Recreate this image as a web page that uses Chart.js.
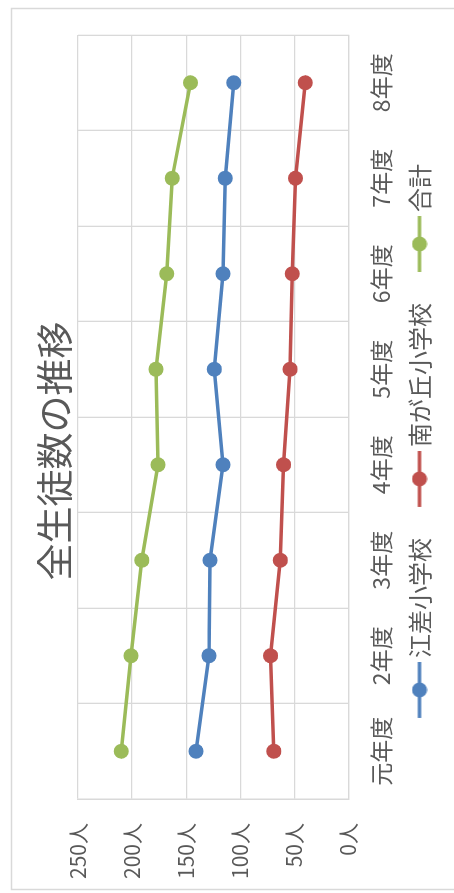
<!DOCTYPE html>
<html lang="ja">
<head>
<meta charset="utf-8">
<title>全生徒数の推移</title>
<script src="https://cdn.jsdelivr.net/npm/chart.js@4.4.1/dist/chart.umd.min.js"></script>
<style>
  html, body { margin: 0; padding: 0; background: #fff; overflow: hidden; }
  body { width: 454px; height: 893px; position: relative; }
  /* グラフは横向きに描いて、ページ上で左へ90度回す */
  #wrap {
    position: absolute; left: 0; top: 0;
    width: 893px; height: 454px;
    transform-origin: 0 0;
    transform: translate(0, 893px) rotate(-90deg);
  }
</style>
</head>
<body>
<div id="wrap"><canvas id="studentChart" width="893" height="454"></canvas></div>
<script>
// データ
const categories = ['元年度', '2年度', '3年度', '4年度', '5年度', '6年度', '7年度', '8年度'];
const esashi = [141, 129, 128, 116, 124, 116, 114, 106];
const minamigaoka = [69, 72, 63, 60, 54, 52, 49, 40];
const total = [210, 201, 191, 176, 178, 168, 163, 146];
const valueTicks = [0, 50, 100, 150, 200, 250];

const FONT = '"Noto Sans CJK JP", "Noto Sans", sans-serif';
const TEXT = '#595959';
const GRID = '#d9d9d9';
const LEGEND_BOX = 68;

// 凡例用: 線つきマーカー (右寄せにして文字との間を詰める)
function legendMark(color) {
  const c = document.createElement('canvas');
  c.width = LEGEND_BOX + 16; c.height = 16;
  const g = c.getContext('2d');
  const end = c.width;
  g.strokeStyle = color;
  g.lineWidth = 3.5;
  g.beginPath(); g.moveTo(end - 56, 8); g.lineTo(end, 8); g.stroke();
  g.fillStyle = color;
  g.beginPath(); g.arc(end - 28, 8, 7.5, 0, Math.PI * 2); g.fill();
  return c;
}

function series(label, data, color) {
  return {
    label: label,
    data: data,
    borderColor: color,
    backgroundColor: color,
    borderWidth: 3.5,
    tension: 0,
    pointStyle: 'circle',
    pointRadius: 7.5,
    pointHoverRadius: 7.5,
    pointBorderWidth: 0,
    pointBackgroundColor: color,
    legendMark: legendMark(color)
  };
}

// 外枠と白背景
const frame = {
  id: 'frame',
  beforeDraw(chart) {
    const ctx = chart.ctx;
    ctx.save();
    ctx.fillStyle = '#fff';
    ctx.fillRect(0, 0, chart.width, chart.height);
    ctx.strokeStyle = GRID;
    ctx.lineWidth = 1.5;
    ctx.strokeRect(3.5, 11.5, 881, 470);
    ctx.restore();
  }
};

new Chart(document.getElementById('studentChart'), {
  type: 'line',
  data: {
    labels: categories,
    datasets: [
      series('江差小学校', esashi, '#4F81BD'),
      series('南が丘小学校', minamigaoka, '#C0504D'),
      series('合計', total, '#9BBB59')
    ]
  },
  options: {
    responsive: false,
    animation: false,
    events: [],
    layout: { padding: { top: 10, left: 0, right: 9, bottom: 12.5 } },
    scales: {
      x: {
        type: 'category',
        offset: true,
        grid: { offset: true, color: GRID, lineWidth: 1.3, drawTicks: false },
        border: { color: GRID, width: 1.3 },
        ticks: { color: TEXT, font: { family: FONT, size: 23 }, padding: 19, maxRotation: 0 },
        afterFit: (scale) => { scale.height = 48; }
      },
      y: {
        min: 0,
        max: 250,
        afterBuildTicks: (scale) => { scale.ticks = valueTicks.map(v => ({ value: v })); },
        grid: { color: GRID, lineWidth: 1.3, drawTicks: false },
        border: { color: GRID, width: 1.3 },
        ticks: {
          color: TEXT,
          font: { family: FONT, size: 21 },
          padding: 24,
          callback: (v) => v + '人'
        },
        afterFit: (scale) => { scale.width = 94; }
      },
      // 右側の余白 (何も描かない)
      yRight: {
        type: 'linear',
        position: 'right',
        grid: { display: false },
        border: { display: false },
        ticks: { display: false },
        afterFit: (scale) => { scale.width = 26; }
      }
    },
    plugins: {
      title: {
        display: true,
        text: '全生徒数の推移',
        color: TEXT,
        font: { family: FONT, size: 37, weight: 'normal' },
        padding: { top: 22.8, bottom: 0.8 }
      },
      legend: {
        position: 'bottom',
        labels: {
          color: TEXT,
          font: { family: FONT, size: 24 },
          usePointStyle: true,
          pointStyleWidth: LEGEND_BOX,
          padding: 11,
          generateLabels: (chart) => {
            const items = Chart.defaults.plugins.legend.labels.generateLabels(chart);
            items.forEach(it => {
              it.pointStyle = chart.data.datasets[it.datasetIndex].legendMark;
            });
            return items;
          }
        }
      },
      tooltip: { enabled: false }
    }
  },
  plugins: [frame]
});
</script>
</body>
</html>
